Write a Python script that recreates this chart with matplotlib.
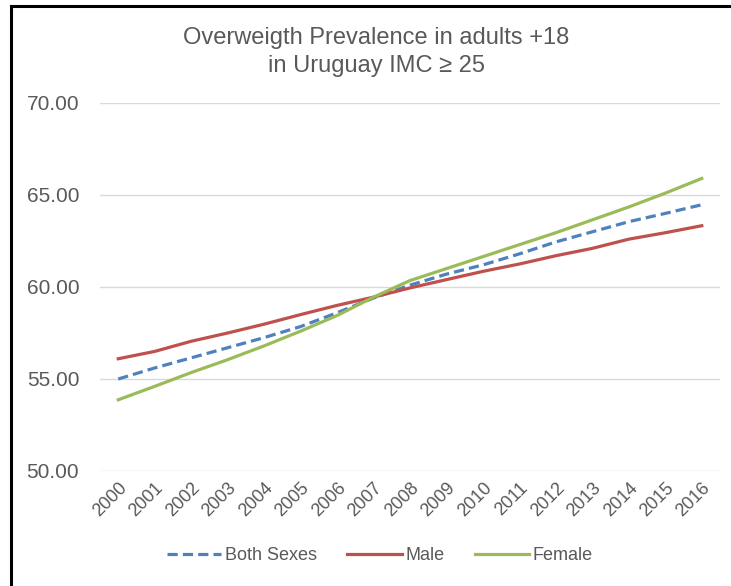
import matplotlib
matplotlib.use("Agg")
import matplotlib.pyplot as plt
from matplotlib.lines import Line2D

years = [str(y) for y in range(2000, 2017)]
both_sexes = [55.0, 55.6, 56.15, 56.7, 57.25, 57.85, 58.6, 59.4, 60.1, 60.7,
              61.2, 61.8, 62.45, 63.0, 63.55, 64.0, 64.47]
male = [56.1, 56.5, 57.05, 57.5, 57.98, 58.5, 59.0, 59.45, 59.95, 60.4,
        60.85, 61.25, 61.7, 62.1, 62.6, 62.95, 63.33]
female = [53.87, 54.6, 55.35, 56.05, 56.8, 57.6, 58.45, 59.45, 60.35, 61.0,
          61.65, 62.3, 62.95, 63.65, 64.35, 65.1, 65.9]
yticks = [50, 55, 60, 65, 70]

plt.rcParams['font.family'] = ['Liberation Sans', 'DejaVu Sans']
W, H = 731, 586
fig = plt.figure(figsize=(W / 100, H / 100), dpi=100)
ax = fig.add_axes([100 / W, 1 - 471 / H, 620 / W, 368 / H])

x = list(range(len(years)))
ax.plot(x, both_sexes, color='#4F81BD', lw=2.3, ls=(0, (3.2, 1.6)), label='Both Sexes',
        solid_capstyle='butt', dash_capstyle='butt')
ax.plot(x, male, color='#C0504D', lw=2.3, label='Male')
ax.plot(x, female, color='#9BBB59', lw=2.3, label='Female')

ax.set_xlim(-0.5, len(years) - 0.5)
ax.set_ylim(50, 70)
ax.set_yticks(yticks)
ax.set_yticklabels([f"{v:.2f}" for v in yticks], fontsize=15, color='#595959')
ax.set_xticks(x)
ax.set_xticklabels(years, rotation=45, ha='right', rotation_mode='anchor',
                   fontsize=13, color='#595959')
ax.tick_params(axis='y', length=0, pad=15)
ax.tick_params(axis='x', length=0, pad=6)
ax.grid(axis='y', color='#D9D9D9', lw=1)
ax.set_axisbelow(True)
for s in ax.spines.values():
    s.set_visible(False)

fig.text(376 / W, 1 - 38 / H, 'Overweigth Prevalence in adults +18', ha='center', va='center',
         fontsize=17, color='#595959')
fig.text(376 / W, 1 - 66 / H, 'in Uruguay IMC ≥ 25', ha='center', va='center',
         fontsize=17, color='#595959')

leg = fig.legend(loc='center', bbox_to_anchor=(380 / W, 1 - 556 / H), ncol=3, frameon=False,
                 fontsize=13, handlelength=3.0, handletextpad=0.2, columnspacing=1.7)
for t in leg.get_texts():
    t.set_color('#595959')

# figure border (left and top)
fig.add_artist(Line2D([10.5 / W, 10.5 / W], [0, 1 - 6 / H], transform=fig.transFigure,
                      color='black', lw=2.2))
fig.add_artist(Line2D([10.5 / W, 1], [1 - 6 / H, 1 - 6 / H], transform=fig.transFigure,
                      color='black', lw=2.2))

fig.savefig('out.png', dpi=100)
